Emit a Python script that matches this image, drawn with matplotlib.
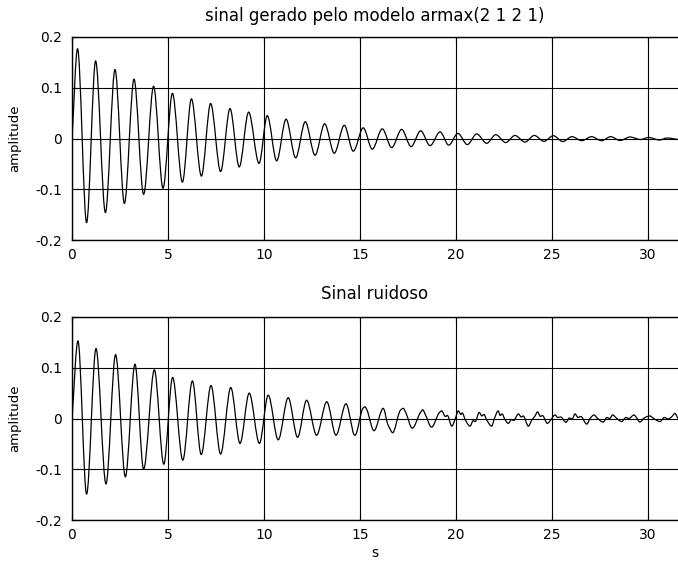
import matplotlib
matplotlib.use("Agg")
import matplotlib.pyplot as plt
from matplotlib.path import Path
from matplotlib.patches import PathPatch

plt.rcParams['font.family'] = ['DejaVu Sans']

# extremes of the armax(2 1 2 1) output
t_model = [0.00, 0.29, 0.76, 1.23, 1.74, 2.24, 2.73, 3.23, 3.73, 4.25, 4.74,
           5.23, 5.75, 6.22, 6.74, 7.22, 7.74, 8.23, 8.71, 9.20, 9.74,
           10.17, 10.66, 11.15, 11.65, 12.15, 12.66, 13.16, 13.66, 14.18, 14.65,
           15.17, 15.64, 16.16, 16.65, 17.17, 17.66, 18.16, 18.65, 19.17, 19.62,
           20.10, 20.59, 21.08, 21.60, 22.07, 22.59, 23.07, 23.59, 24.08, 24.58,
           25.07, 25.56, 26.04, 26.55, 27.06, 27.58, 28.06, 28.55, 29.06, 29.60,
           30.04, 30.60, 31.00, 31.56]
y_model = [0.000, 0.177, -0.166, 0.153, -0.146, 0.136, -0.128, 0.117, -0.110, 0.103, -0.098,
           0.089, -0.086, 0.078, -0.074, 0.069, -0.065, 0.059, -0.056, 0.052, -0.049,
           0.045, -0.044, 0.038, -0.038, 0.033, -0.033, 0.029, -0.029, 0.026, -0.025,
           0.021, -0.021, 0.019, -0.018, 0.018, -0.016, 0.015, -0.014, 0.013, -0.013,
           0.010, -0.012, 0.009, -0.0095, 0.0075, -0.008, 0.006, -0.007, 0.006, -0.0055,
           0.0055, -0.006, 0.0036, -0.0043, 0.0036, -0.0043, 0.0036, -0.004, 0.003, -0.002,
           0.002, -0.003, 0.001, -0.002]

# noisy signal, extremes plus the visible wiggles
t_noisy = [0.00, 0.31, 0.76, 1.25, 1.77, 2.27, 2.78, 3.28, 3.73, 4.29, 4.78,
           5.24, 5.77, 6.27, 6.73, 7.24, 7.74, 8.27, 8.75, 9.23, 9.76,
           10.22, 10.74, 11.26, 11.75, 12.22, 12.74, 13.27, 13.75, 14.27, 14.60, 14.66, 14.74,
           15.15, 15.26, 15.35, 15.73, 16.21, 16.45, 16.52, 16.70, 17.10, 17.25, 17.38, 17.72,
           18.15, 18.27, 18.40, 18.73, 19.12, 19.25, 19.45, 19.55, 19.78, 19.95,
           20.12, 20.25, 20.32, 20.50, 20.73, 20.90, 21.00, 21.21, 21.35, 21.45, 21.60,
           21.86, 22.00, 22.20, 22.30, 22.40, 22.55, 22.72, 22.90, 23.00, 23.25, 23.40,
           23.50, 23.77, 23.95, 24.10, 24.25, 24.40, 24.50, 24.76, 24.95, 25.16, 25.30,
           25.45, 25.73, 25.90, 26.05, 26.20, 26.35, 26.50, 26.81, 27.00, 27.19, 27.35,
           27.67, 27.85, 28.00, 28.16, 28.35, 28.63, 28.85, 29.00, 29.27, 29.40, 29.58,
           29.80, 30.10, 30.30, 30.63, 30.85, 31.05, 31.25, 31.40, 31.56]
y_noisy = [0.000, 0.153, -0.149, 0.138, -0.129, 0.126, -0.115, 0.107, -0.100, 0.096, -0.090,
           0.081, -0.082, 0.074, -0.071, 0.065, -0.070, 0.061, -0.049, 0.050, -0.049,
           0.046, -0.042, 0.041, -0.037, 0.036, -0.033, 0.033, -0.033, 0.029, -0.020, -0.030, -0.033,
           0.020, 0.023, 0.018, -0.024, 0.020, -0.012, -0.017, -0.028, 0.016, 0.020, 0.012, -0.019,
           0.012, 0.017, 0.008, -0.017, 0.011, 0.015, 0.004, 0.006, -0.015, -0.002,
           0.015, 0.008, 0.011, -0.004, -0.015, -0.004, -0.006, 0.012, 0.005, 0.008, -0.003,
           -0.015, 0.000, 0.015, 0.006, 0.009, -0.002, -0.0095, -0.002, -0.004, 0.009, 0.003,
           0.005, -0.015, -0.003, 0.004, 0.013, 0.004, 0.006, -0.0095, -0.002, 0.007, 0.002,
           0.003, -0.0075, 0.001, -0.001, 0.009, 0.002, 0.004, -0.011, 0.001, 0.007, 0.001,
           -0.007, 0.002, 0.000, 0.007, 0.001, -0.006, 0.002, 0.000, 0.007, 0.002, -0.007,
           0.001, 0.005, 0.000, -0.006, 0.002, -0.001, 0.004, 0.010, 0.000]

y_ticks = [-0.2, -0.1, 0, 0.1, 0.2]
y_tick_labels = ["-0.2", "-0.1", "0", "0.1", "0.2"]
x_ticks = [0, 5, 10, 15, 20, 25, 30]


def smooth_path(t, y):
    # monotone cubic curve through the points (flat at the peaks), like d3's curveMonotoneX
    n = len(t)
    sec = [(y[i + 1] - y[i]) / (t[i + 1] - t[i]) for i in range(n - 1)]
    m = [0.0] * n
    m[0] = sec[0]
    m[-1] = sec[-1]
    for i in range(1, n - 1):
        if sec[i - 1] * sec[i] > 0:
            m[i] = 2 / (1 / sec[i - 1] + 1 / sec[i])
    verts = [(t[0], y[0])]
    codes = [Path.MOVETO]
    for i in range(n - 1):
        d = (t[i + 1] - t[i]) / 3
        verts += [(t[i] + d, y[i] + m[i] * d), (t[i + 1] - d, y[i + 1] - m[i + 1] * d), (t[i + 1], y[i + 1])]
        codes += [Path.CURVE4] * 3
    return Path(verts, codes)


fig = plt.figure(figsize=(6.78, 5.69), dpi=100)
W, H = 678, 569
left = 72
right = 700   # axes run past the picture's right edge
x_max = (right - left) / 19.2

ax1 = fig.add_axes([left / W, (H - 240) / H, (right - left) / W, 203 / H])
ax2 = fig.add_axes([left / W, (H - 520) / H, (right - left) / W, 203 / H])

for ax, t, y in [(ax1, t_model, y_model), (ax2, t_noisy, y_noisy)]:
    ax.add_patch(PathPatch(smooth_path(t, y), fill=False, edgecolor="black", linewidth=0.9, zorder=3))
    ax.set_xlim(0, x_max)
    ax.set_ylim(-0.2, 0.2)
    ax.set_xticks(x_ticks)
    ax.set_yticks(y_ticks)
    ax.set_yticklabels(y_tick_labels)
    ax.grid(True, color="black", linestyle="-", linewidth=0.8)
    ax.tick_params(direction="in", length=4, top=True, labelsize=10, colors="black")
    ax.tick_params(axis="y", pad=7)
    ax.tick_params(axis="x", pad=6)
    for s in ax.spines.values():
        s.set_color("black")
        s.set_linewidth(1.0)
    ax.set_ylabel("amplitude", fontsize=9.5)
    ax.yaxis.set_label_coords((21 - left) / (right - left), 0.5)

fig.text(375 / W, 1 - 16 / H, "sinal gerado pelo modelo armax(2 1 2 1)", ha="center", va="center", fontsize=12)
fig.text(375 / W, 1 - 294 / H, "Sinal ruidoso", ha="center", va="center", fontsize=12)
fig.text(375 / W, 1 - 553 / H, "s", ha="center", va="center", fontsize=10)

fig.savefig("out.png", dpi=100)
